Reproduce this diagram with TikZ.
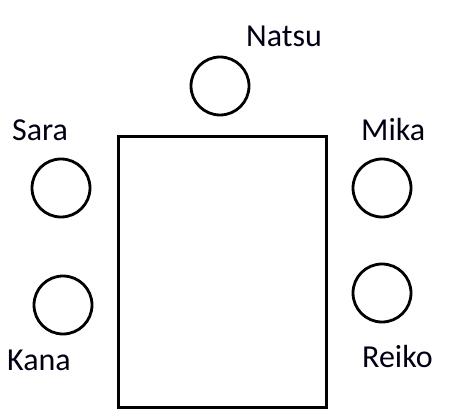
\documentclass[tikz,border=0pt]{standalone}
\usepackage{fontspec}
\setmainfont{Carlito}
\begin{document}
\begin{tikzpicture}[x=1pt,y=1pt,
  seat/.style={circle,draw=black,line width=2.8pt,minimum size=58pt,inner sep=0pt},
  tablebox/.style={rectangle,draw=black,line width=3.2pt,minimum width=208pt,minimum height=271pt,inner sep=0pt},
  seatlabel/.style={font=\fontsize{32}{32}\selectfont,text=black!93!blue,inner sep=0pt,anchor=base west}]
\useasboundingbox (0,0) rectangle (471,413);
\node[tablebox] (table) at (222.5,141) {};
\node[seat] (natsu) at (220,327) {};
\node[seat] (sara) at (61,225) {};
\node[seat] (mika) at (382,225) {};
\node[seat] (kana) at (63,108) {};
\node[seat] (reiko) at (382,120) {};
\node[seatlabel] (lnatsu) at (246,366) {Natsu};
\node[seatlabel] (lsara) at (12,272) {Sara};
\node[seatlabel] (lmika) at (361,272) {Mika};
\node[seatlabel] (lkana) at (7,43) {Kana};
\node[seatlabel] (lreiko) at (362,46) {Reiko};
\end{tikzpicture}
\end{document}
